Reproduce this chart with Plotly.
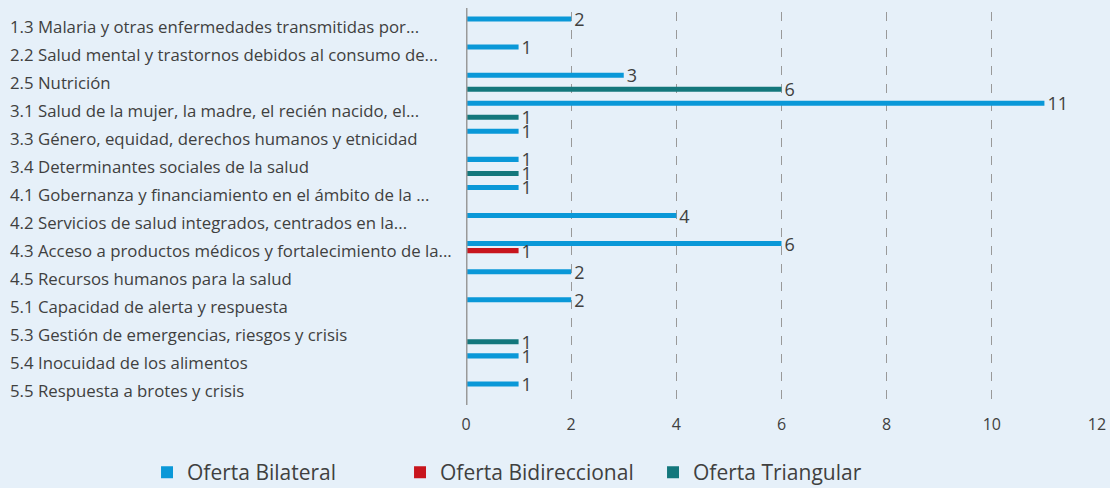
import plotly.graph_objects as go

categories = [
    "1.3 Malaria y otras enfermedades transmitidas por...",
    "2.2 Salud mental y trastornos debidos al consumo de...",
    "2.5 Nutrición",
    "3.1 Salud de la mujer, la madre, el recién nacido, el...",
    "3.3 Género, equidad, derechos humanos y etnicidad",
    "3.4 Determinantes sociales de la salud",
    "4.1 Gobernanza y financiamiento en el ámbito de la ...",
    "4.2 Servicios de salud integrados, centrados en la...",
    "4.3 Acceso a productos médicos y fortalecimiento de la...",
    "4.5 Recursos humanos para la salud",
    "5.1 Capacidad de alerta y respuesta",
    "5.3 Gestión de emergencias, riesgos y crisis",
    "5.4 Inocuidad de los alimentos",
    "5.5 Respuesta a brotes y crisis",
]
bilateral = [2, 1, 3, 11, 1, 1, 1, 4, 6, 2, 2, None, 1, 1]
bidireccional = [None, None, None, None, None, None, None, None, 1, None, None, None, None, None]
triangular = [None, None, 6, 1, None, 1, None, None, None, None, None, 1, None, None]

series = [
    ("Oferta Bilateral", bilateral, "#0A98D8"),
    ("Oferta Bidireccional", bidireccional, "#C8151D"),
    ("Oferta Triangular", triangular, "#13777C"),
]

FONT = "Open Sans"
TXT = "#404040"

fig = go.Figure()
for name, vals, col in series:
    fig.add_trace(go.Bar(
        y=categories, x=vals, orientation="h", name=name,
        marker=dict(color=col, line=dict(width=0)),
        text=[("" if v is None else "\u2009" + str(v)) for v in vals],
        textposition="outside", constraintext="none", cliponaxis=False,
        textfont=dict(family=FONT, size=18, color=TXT),
        hoverinfo="x+y",
    ))

annotations = []
for c in categories:
    annotations.append(dict(
        xref="paper", yref="y", x=-0.7258, y=c, text=c, showarrow=False,
        xanchor="left", yanchor="middle",
        font=dict(family=FONT, size=16.8, color=TXT),
    ))

fig.update_layout(
    width=1110, height=488,
    margin=dict(l=466, r=13, t=12, b=83, autoexpand=False),
    paper_bgcolor="#E6F0F9", plot_bgcolor="#E6F0F9",
    barmode="group", bargap=0.25, bargroupgap=0.28,
    font=dict(family=FONT, color=TXT),
    showlegend=True,
    legend=dict(orientation="h", x=-0.5055, xanchor="left",
                y=-0.172, yanchor="middle",
                font=dict(family=FONT, size=21, color=TXT),
                entrywidth=208, entrywidthmode="pixels",
                bgcolor="rgba(0,0,0,0)"),
    annotations=annotations,
    xaxis=dict(range=[0, 12], dtick=2, showgrid=True, gridcolor="#999999",
               griddash="dash", gridwidth=1, zeroline=False,
               tickfont=dict(family=FONT, size=16, color=TXT), ticks="",
               ticklabelstandoff=8, showline=False),
    yaxis=dict(autorange="reversed", showticklabels=False, showgrid=False,
               zeroline=False, showline=False, ticks=""),
    shapes=[dict(type="line", xref="x", yref="paper", x0=0, x1=0, y0=0, y1=1.01,
                 line=dict(color="#999999", width=3))],
)

fig.write_html("out.html", config={"displayModeBar": False},
               post_script="document.body.style.margin='0';document.body.style.padding='0';")
